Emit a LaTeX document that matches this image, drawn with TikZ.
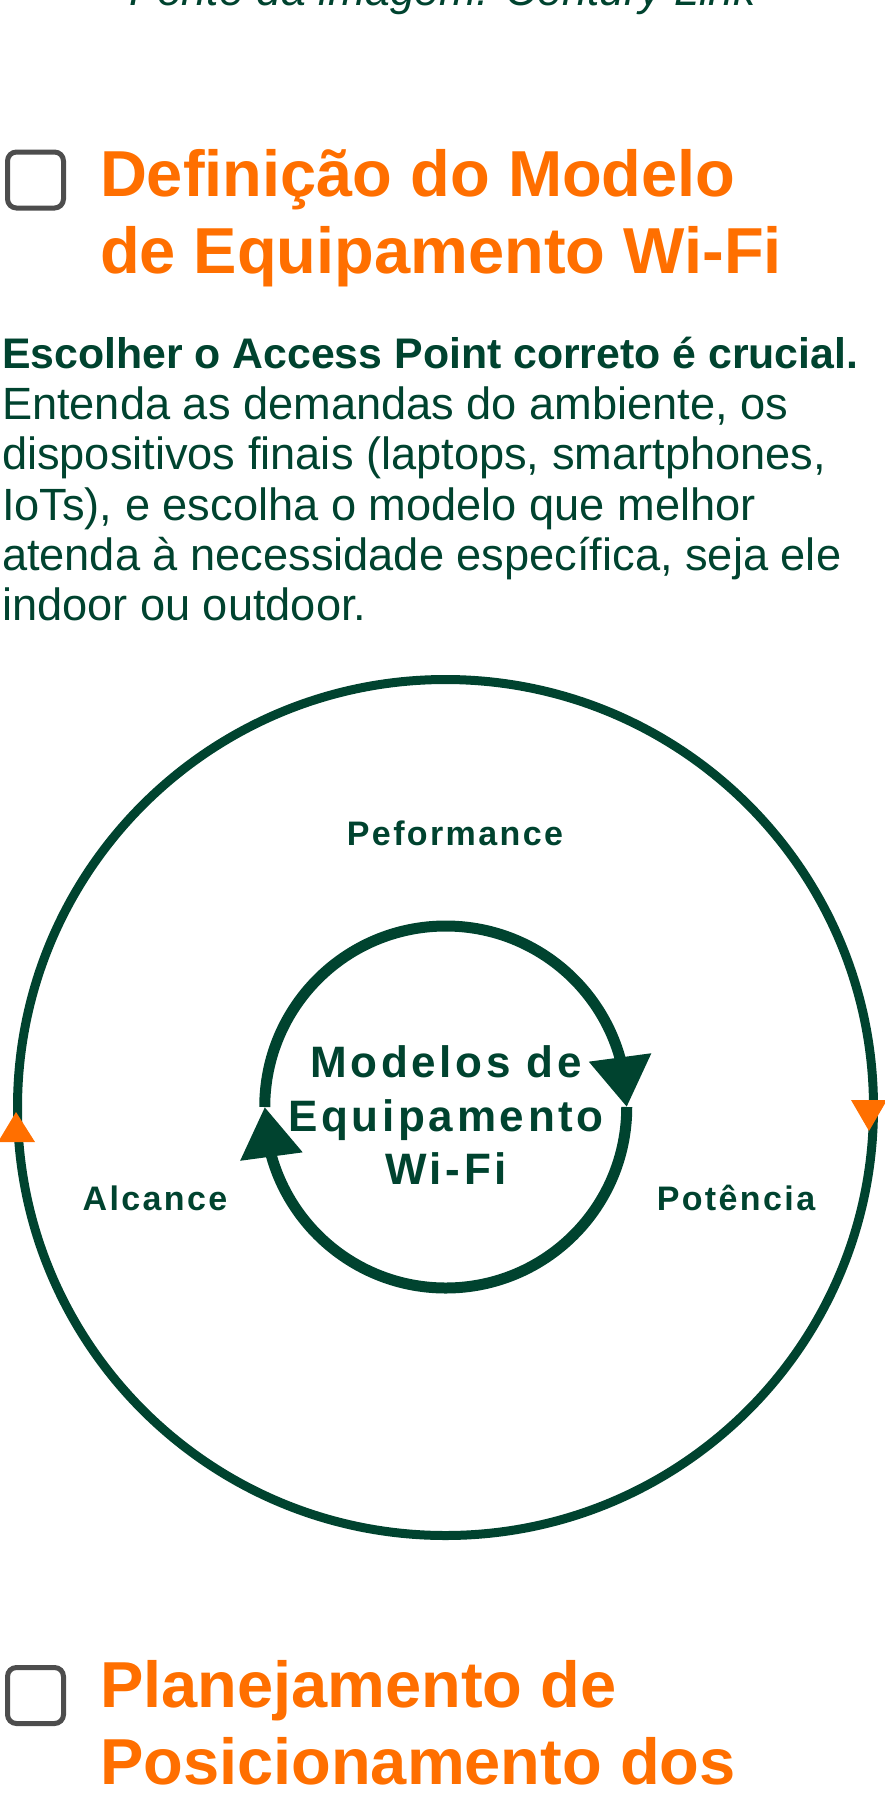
\documentclass[tikz,border=0pt]{standalone}
\usepackage{fontspec}
\setmainfont{Liberation Sans}
\newfontfamily\labelfont[LetterSpace=7]{Liberation Sans}
\newfontfamily\hubfont[LetterSpace=8.4]{Liberation Sans}
\usetikzlibrary{arrows.meta,bending}

\definecolor{wfgreen}{HTML}{00432F}
\definecolor{wforange}{HTML}{FF6F00}
\definecolor{boxgray}{HTML}{4D4D4D}

\begin{document}
\begin{tikzpicture}[x=1pt,y=-1pt,
  every node/.style={inner sep=0pt,outer sep=0pt},
  heading/.style={anchor=base west,text=wforange,font=\fontsize{65}{77}\selectfont\bfseries},
  body/.style={anchor=base west,text=wfgreen,font=\fontsize{45.2}{50}\selectfont},
  box node/.style={draw=boxgray,line width=5pt,rounded corners=9pt,minimum size=56pt},
  label node/.style={anchor=base,text=wfgreen,font=\labelfont\fontsize{34}{40}\selectfont\bfseries},
  hub text/.style={align=center,text=wfgreen,font=\hubfont\fontsize{44}{53.5}\selectfont\bfseries},
  cycle arc/.style={draw=wfgreen,line width=11pt,-{Triangle[length=50pt,width=60pt]}},
  marker/.style={fill=wforange}]

 \useasboundingbox (0,0) rectangle (884,1805);

 % caption of the previous figure, cut at the top
 \node[anchor=base,text=wfgreen,font=\fontsize{44.6}{50}\selectfont\itshape] (source) at (443,5) {Fonte da imagem: Century Link};

 \node[box node] (box1) at (35.5,180) {};
 \node[heading] (h1a) at (100,196) {Definição do Modelo};
 \node[heading] (h1b) at (100,273) {de Equipamento Wi-Fi};

 \node[body,font=\fontsize{42.8}{50}\selectfont\bfseries] (lead) at (2,368) {Escolher o Access Point correto é crucial.};
 \node[body] (l1) at (2,419) {Entenda as demandas do ambiente, os};
 \node[body] (l2) at (2,469) {dispositivos finais (laptops, smartphones,};
 \node[body] (l3) at (2,520) {IoTs), e escolha o modelo que melhor};
 \node[body] (l4) at (2,570) {atenda à necessidade específica, seja ele};
 \node[body] (l5) at (2,620) {indoor ou outdoor.};

 % outer ring with its two markers
 \node[circle,draw=wfgreen,line width=9pt,minimum size=856pt] (ring) at (445.5,1107.5) {};
 \fill[marker] (16,1112) -- (35,1142) -- (-2,1142) -- cycle;
 \fill[marker] (869,1131) -- (887,1100) -- (851,1100) -- cycle;

 \node[label node] (perf) at (455,845) {Peformance};
 \node[label node] (reach) at (155,1210) {Alcance};
 \node[label node] (power) at (736,1210) {Potência};

 % inner cycle
 \node[circle,minimum size=362pt] (hub) at (445.75,1107) {};
 \node[hub text] (hubtext) at (446,1115.5) {Modelos de\\Equipamento\\Wi-Fi};
 \draw[cycle arc] (hub.west) arc[start angle=180,end angle=0,radius=181pt];
 \draw[cycle arc] (hub.east) arc[start angle=0,end angle=-180,radius=181pt];

 \node[box node] (box2) at (35.5,1695.5) {};
 \node[heading] (h2a) at (100,1707) {Planejamento de};
 \node[heading] (h2b) at (100,1784) {Posicionamento dos};

\end{tikzpicture}
\end{document}
